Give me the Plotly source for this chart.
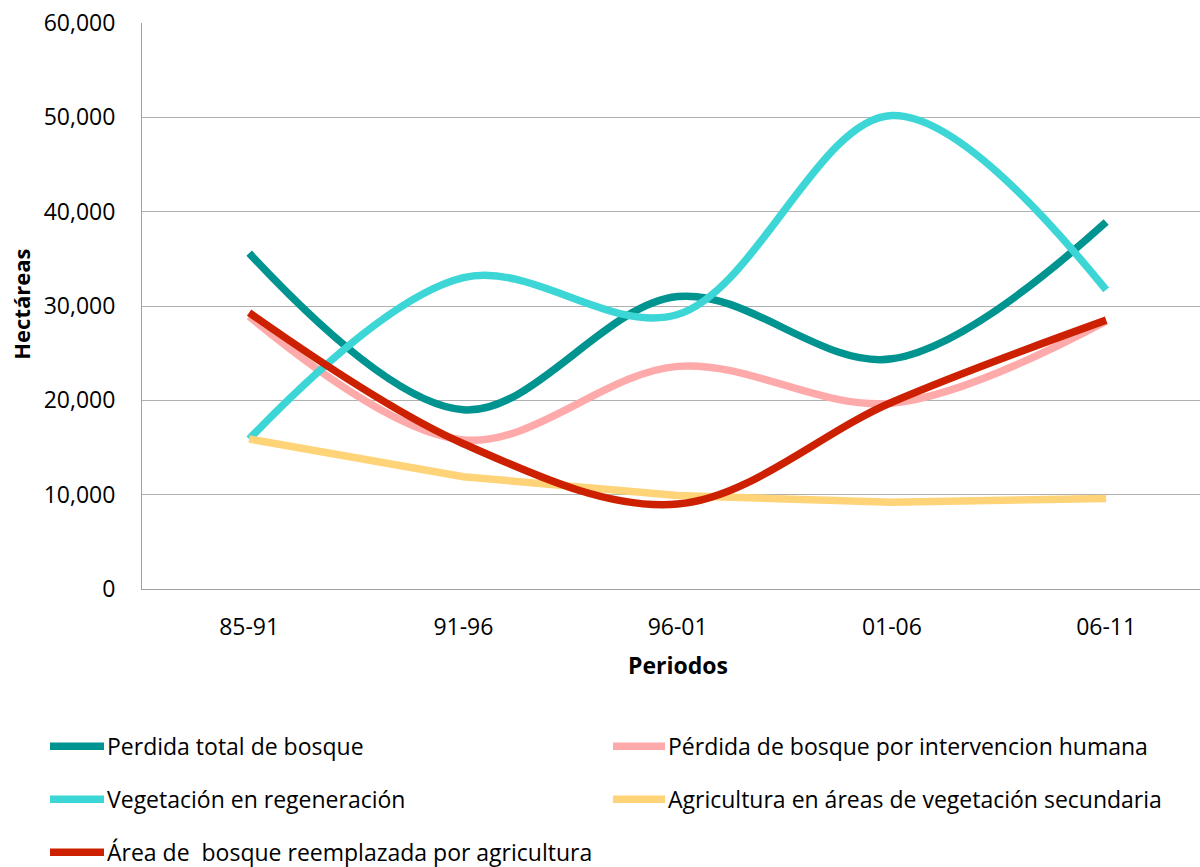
import plotly.graph_objects as go

# Periods (x categories)
periodos = ["85-91", "91-96", "96-01", "01-06", "06-11"]

# Hectares per series
perdida_total = [35600, 19000, 31000, 24400, 38900]
perdida_humana = [28900, 15800, 23600, 19700, 28400]
vegetacion_regeneracion = [15900, 33000, 29100, 50200, 31700]
agricultura_secundaria = [15900, 11900, 9900, 9200, 9600]
bosque_reemplazado = [29300, 15400, 9000, 19800, 28500]

y_ticks = [0, 10000, 20000, 30000, 40000, 50000, 60000]

series = [
    ("Perdida total de bosque", perdida_total, "#009490", "spline"),
    ("Pérdida de bosque por intervencion humana", perdida_humana, "#FFAAAA", "spline"),
    ("Vegetación en regeneración", vegetacion_regeneracion, "#3DD6D6", "spline"),
    ("Agricultura en áreas de vegetación secundaria", agricultura_secundaria, "#FFD479", "linear"),
    ("Área de  bosque reemplazada por agricultura", bosque_reemplazado, "#CC2000", "spline"),
]

FONT = "Open Sans, sans-serif"
W, H = 1200, 867
L, R, T, B = 142, 0, 23, 277.5

fig = go.Figure()
for name, vals, color, shape in series:
    fig.add_trace(go.Scatter(
        x=periodos, y=vals, name=name, mode="lines",
        line=dict(color=color, width=7.5, shape=shape, smoothing=1.0),
        showlegend=False,
    ))

fig.update_layout(
    width=W, height=H,
    margin=dict(l=L, r=R, t=T, b=B),
    plot_bgcolor="white", paper_bgcolor="white",
    font=dict(family=FONT, size=23, color="black"),
)

fig.update_xaxes(
    type="category", range=[-0.5, 4.438],
    showgrid=False, showline=True, linecolor="#A0A0A0", linewidth=1,
    ticks="", ticklabelstandoff=17, tickfont=dict(size=23),
)
fig.update_yaxes(
    range=[0, 60000], tickvals=y_ticks, tickformat=",",
    showgrid=True, gridcolor="#B0B0B0", gridwidth=1,
    showline=True, linecolor="#A0A0A0", linewidth=1,
    zeroline=False, ticks="", ticklabelstandoff=21, tickfont=dict(size=23),
)

plot_w = W - L - R
plot_h = H - T - B

def px_x(p):
    return (p - L) / plot_w

def px_y(p):
    return 1 - (p - T) / plot_h

# Axis titles
fig.add_annotation(
    text="<b>Periodos</b>", x=px_x(678), y=px_y(666), xref="paper", yref="paper",
    showarrow=False, font=dict(size=23), xanchor="center", yanchor="middle",
)
fig.add_annotation(
    text="<b>Hectáreas</b>", x=px_x(21), y=px_y(305), xref="paper", yref="paper",
    showarrow=False, font=dict(size=22), textangle=-90,
    xanchor="center", yanchor="middle",
)

# Legend drawn below the plot in two columns
legend_pos = [
    (47, 107, 747),
    (610, 668, 747),
    (47, 107, 800),
    (610, 668, 800),
    (47, 107, 853),
]
for (name, vals, color, shape), (x0, x1, yy) in zip(series, legend_pos):
    fig.add_shape(
        type="line", xref="paper", yref="paper",
        x0=px_x(x0 + 3), x1=px_x(x1 - 3), y0=px_y(yy), y1=px_y(yy),
        line=dict(color=color, width=7.5),
    )
    fig.add_annotation(
        text=name, x=px_x(x1 - 2), y=px_y(yy), xref="paper", yref="paper",
        showarrow=False, font=dict(size=23), xanchor="left", yanchor="middle",
    )

fig.write_html("out.html")
